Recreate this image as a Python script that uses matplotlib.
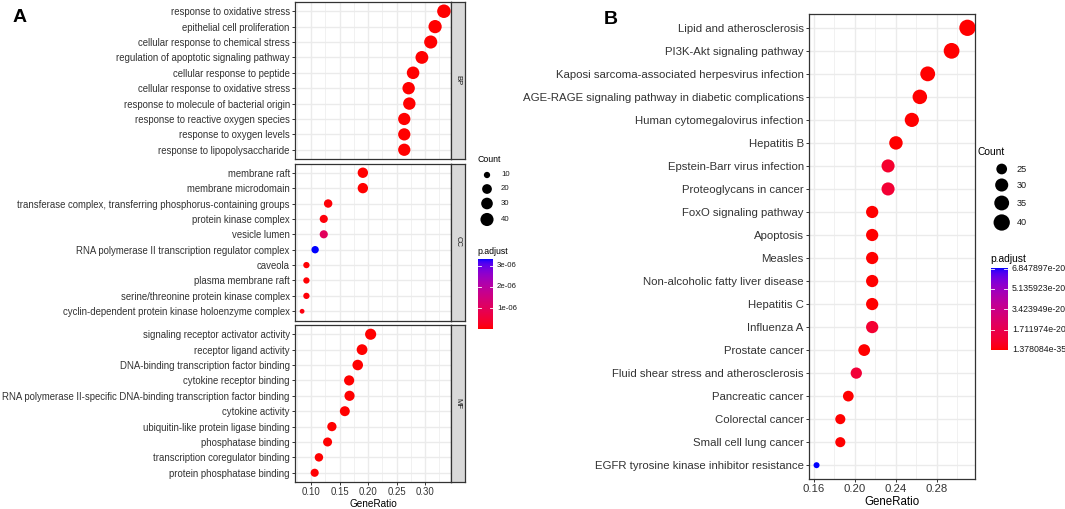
import numpy as np
import matplotlib
matplotlib.use("Agg")
import matplotlib.pyplot as plt
from matplotlib.colors import ListedColormap

plt.rcParams['font.family'] = ['Liberation Sans', 'DejaVu Sans']

# ---------------- data: panel A (GO) ----------------
bp_terms = ["response to oxidative stress", "epithelial cell proliferation",
            "cellular response to chemical stress", "regulation of apoptotic signaling pathway",
            "cellular response to peptide", "cellular response to oxidative stress",
            "response to molecule of bacterial origin", "response to reactive oxygen species",
            "response to oxygen levels", "response to lipopolysaccharide"]
bp_ratio = [0.3333, 0.3178, 0.3101, 0.2946, 0.2791, 0.2713, 0.2725, 0.2636, 0.2636, 0.2636]
bp_count = [43, 41, 40, 38, 36, 35, 35, 34, 34, 34]
bp_padj = [1e-15, 2e-14, 3e-14, 1e-13, 2e-13, 3e-13, 4e-13, 5e-13, 6e-13, 7e-13]

cc_terms = ["membrane raft", "membrane microdomain",
            "transferase complex, transferring phosphorus-containing groups",
            "protein kinase complex", "vesicle lumen",
            "RNA polymerase II transcription regulator complex", "caveola",
            "plasma membrane raft", "serine/threonine protein kinase complex",
            "cyclin-dependent protein kinase holoenzyme complex"]
cc_ratio = [0.1908, 0.1908, 0.1298, 0.1221, 0.1221, 0.1069, 0.0916, 0.0916, 0.0916, 0.0840]
cc_count = [23, 23, 15, 14, 14, 12, 10, 10, 10, 9]
cc_padj = [1e-10, 1e-10, 4e-8, 6e-8, 1.0e-6, 3.26e-6, 2e-8, 2e-8, 5e-8, 8e-8]

mf_terms = ["signaling receptor activator activity", "receptor ligand activity",
            "DNA-binding transcription factor binding", "cytokine receptor binding",
            "RNA polymerase II-specific DNA-binding transcription factor binding",
            "cytokine activity", "ubiquitin-like protein ligase binding",
            "phosphatase binding", "transcription coregulator binding",
            "protein phosphatase binding"]
mf_ratio = [0.2045, 0.1894, 0.1818, 0.1667, 0.1674, 0.1591, 0.1364, 0.1288, 0.1136, 0.1061]
mf_count = [27, 25, 24, 22, 22, 21, 18, 17, 15, 14]
mf_padj = [1e-12, 2e-12, 5e-12, 1e-11, 2e-11, 3e-11, 5e-9, 8e-9, 1e-8, 2e-8]

facet_names = ["BP", "CC", "MF"]
a_xticks = [0.10, 0.15, 0.20, 0.25, 0.30]
a_count_breaks = [10, 20, 30, 40]
a_padj_breaks = [1e-6, 2e-6, 3e-6]
a_padj_labels = ["1e-06", "2e-06", "3e-06"]

# ---------------- data: panel B (KEGG) ----------------
kegg_terms = ["Lipid and atherosclerosis", "PI3K-Akt signaling pathway",
              "Kaposi sarcoma-associated herpesvirus infection",
              "AGE-RAGE signaling pathway in diabetic complications",
              "Human cytomegalovirus infection", "Hepatitis B", "Epstein-Barr virus infection",
              "Proteoglycans in cancer", "FoxO signaling pathway", "Apoptosis", "Measles",
              "Non-alcoholic fatty liver disease", "Hepatitis C", "Influenza A",
              "Prostate cancer", "Fluid shear stress and atherosclerosis", "Pancreatic cancer",
              "Colorectal cancer", "Small cell lung cancer",
              "EGFR tyrosine kinase inhibitor resistance"]
kegg_ratio = [0.3101, 0.2946, 0.2713, 0.2636, 0.2558, 0.2403, 0.2326, 0.2326, 0.2171, 0.2171,
              0.2171, 0.2171, 0.2171, 0.2171, 0.2093, 0.2016, 0.1938, 0.1860, 0.1860, 0.1628]
kegg_count = [40, 38, 35, 34, 33, 31, 30, 30, 28, 28, 28, 28, 28, 28, 27, 26, 25, 24, 24, 21]
kegg_padj = [1.378084e-35, 1e-33, 1e-28, 1e-27, 1e-27, 2e-24, 8.0e-21, 9.5e-21, 1e-25, 1e-25,
             1e-24, 1e-24, 1e-23, 9.0e-21, 1e-23, 1.05e-20, 2e-22, 1e-22, 1e-22, 6.847897e-20]
b_xticks = [0.16, 0.20, 0.24, 0.28]
b_count_breaks = [25, 30, 35, 40]
b_padj_breaks = [1.378084e-35, 1.711974e-20, 3.423949e-20, 5.135923e-20, 6.847897e-20]
b_padj_labels = ["1.378084e-35", "1.711974e-20", "3.423949e-20", "5.135923e-20", "6.847897e-20"]

# ---------------- colour scale (Lab interpolation red -> blue) ----------------
def lab_to_rgb(L, a, b):
    fy = (L + 16) / 116.0
    fx = fy + a / 500.0
    fz = fy - b / 200.0
    def finv(t):
        return np.where(t ** 3 > 0.008856, t ** 3, (t - 16 / 116.0) / 7.787)
    X = 0.95047 * finv(fx); Y = finv(fy); Z = 1.08883 * finv(fz)
    r = 3.2406 * X - 1.5372 * Y - 0.4986 * Z
    g = -0.9689 * X + 1.8758 * Y + 0.0415 * Z
    bb = 0.0557 * X - 0.2040 * Y + 1.0570 * Z
    def gam(c):
        c = np.clip(c, 0, None)
        return np.where(c > 0.0031308, 1.055 * c ** (1 / 2.4) - 0.055, 12.92 * c)
    return np.clip(np.stack([gam(r), gam(g), gam(bb)], -1), 0, 1)

red_lab = np.array([53.2408, 80.0925, 67.2032])
blue_lab = np.array([32.2970, 79.1875, -107.8602])
tt = np.linspace(0, 1, 256)
lab = red_lab[None, :] * (1 - tt[:, None]) + blue_lab[None, :] * tt[:, None]
cmap = ListedColormap(lab_to_rgb(lab[:, 0], lab[:, 1], lab[:, 2]))

# ---------------- figure ----------------
W, H = 1065, 509
fig = plt.figure(figsize=(W / 100, H / 100), dpi=100)

def ax_px(x0, y0, x1, y1):
    return fig.add_axes([x0 / W, 1 - y1 / H, (x1 - x0) / W, (y1 - y0) / H])

def size_fn(counts, cmin, cmax, k, o):
    c = np.asarray(counts, float)
    sz = 1 + 5 * np.sqrt(np.clip((c - cmin) / (cmax - cmin), 0, 1))
    d_px = k * sz + o
    return (d_px * 0.72) ** 2

EDGE = '#333333'
GRID = '#EBEBEB'

def style_panel(ax, xlim, xticks, minor_ticks, n, show_x, fs):
    ax.set_xlim(*xlim)
    ax.set_ylim(-0.6, n - 1 + 0.6)
    ax.set_xticks(xticks)
    ax.set_xticks(minor_ticks, minor=True)
    ax.grid(True, which='major', color=GRID, lw=1.0)
    ax.grid(True, which='minor', axis='x', color=GRID, lw=0.5)
    ax.set_axisbelow(True)
    for s in ax.spines.values():
        s.set_color(EDGE); s.set_linewidth(0.9)
    ax.tick_params(axis='both', which='major', length=2.2, width=0.7, color=EDGE,
                   labelcolor='#333333', labelsize=fs, pad=1.5)
    ax.tick_params(axis='x', which='minor', length=0)
    if not show_x:
        ax.tick_params(axis='x', which='major', length=0, labelbottom=False)

# --- panel A ---
a_all_ratio = bp_ratio + cc_ratio + mf_ratio
a_all_count = bp_count + cc_count + mf_count
a_all_padj = bp_padj + cc_padj + mf_padj
lo, hi = min(a_all_ratio), max(a_all_ratio)
a_xlim = (lo - 0.05 * (hi - lo), hi + 0.05 * (hi - lo))
a_cmin, a_cmax = min(a_all_count), max(a_all_count)
a_vmin, a_vmax = min(a_all_padj), max(a_all_padj)
a_minor = [0.075, 0.125, 0.175, 0.225, 0.275, 0.325]

panel_y = [(2, 159), (163.5, 320.5), (325, 482)]
groups = [(bp_terms, bp_ratio, bp_count, bp_padj),
          (cc_terms, cc_ratio, cc_count, cc_padj),
          (mf_terms, mf_ratio, mf_count, mf_padj)]
for i, ((y0, y1), (terms, ratio, count, padj)) in enumerate(zip(panel_y, groups)):
    ax = ax_px(295, y0, 451, y1)
    n = len(terms)
    yy = np.arange(n)[::-1]
    cols = cmap((np.array(padj) - a_vmin) / (a_vmax - a_vmin))
    ax.scatter(ratio, yy, s=size_fn(count, a_cmin, a_cmax, 1.74, 3.06), c=cols,
               edgecolors='none', zorder=3)
    style_panel(ax, a_xlim, a_xticks, a_minor, n, i == 2, 6.9)
    ax.set_yticks(yy)
    ax.set_yticklabels(terms)
    if i == 2:
        ax.set_xticklabels(["%.2f" % v for v in a_xticks])
        ax.set_xlabel("GeneRatio", fontsize=7.2, color='black', labelpad=1.5)
    sax = ax_px(451, y0, 465, y1)
    sax.set_facecolor('#D9D9D9')
    sax.set_xticks([]); sax.set_yticks([])
    for s in sax.spines.values():
        s.set_color(EDGE); s.set_linewidth(0.9)
    sax.text(0.5, 0.5, facet_names[i], rotation=270, ha='center', va='center',
             fontsize=5.5, color='#1A1A1A', transform=sax.transAxes)

# --- panel B ---
lo, hi = min(kegg_ratio), max(kegg_ratio)
b_xlim = (lo - 0.05 * (hi - lo), hi + 0.05 * (hi - lo))
b_cmin, b_cmax = min(kegg_count), max(kegg_count)
b_vmin, b_vmax = min(kegg_padj), max(kegg_padj)
axb = ax_px(809, 14, 975, 479)
nb = len(kegg_terms)
yb = np.arange(nb)[::-1]
colsb = cmap((np.array(kegg_padj) - b_vmin) / (b_vmax - b_vmin))
axb.scatter(kegg_ratio, yb, s=size_fn(kegg_count, b_cmin, b_cmax, 2.06, 3.94), c=colsb,
            edgecolors='none', zorder=3)
style_panel(axb, b_xlim, b_xticks, [0.18, 0.22, 0.26, 0.30], nb, True, 8.2)
axb.set_yticks(yb)
axb.set_yticklabels(kegg_terms)
axb.set_xticklabels(["%.2f" % v for v in b_xticks])
axb.set_xlabel("GeneRatio", fontsize=8.3, color='black', labelpad=1.5)

# ---------------- legends & labels (overlay in pixel coordinates) ----------------
ov = fig.add_axes([0, 0, 1, 1], zorder=10)
ov.set_xlim(0, W); ov.set_ylim(H, 0); ov.axis('off')

ov.text(19.5, 17, "A", fontsize=14, fontweight='bold', ha='center', va='center')
ov.text(611, 19, "B", fontsize=14, fontweight='bold', ha='center', va='center')

# A: Count legend
ov.text(477, 160, "Count", fontsize=6.3, ha='left', va='center', color='black')
for v, yk in zip(a_count_breaks, [175, 189, 203.5, 219.5]):
    ov.scatter([487], [yk], s=size_fn([v], a_cmin, a_cmax, 1.74, 3.06), c='black',
               edgecolors='none')
    ov.text(501, yk, str(v), fontsize=5.6, ha='left', va='center', color='#1A1A1A')

# A: p.adjust colorbar
ov.text(477, 252, "p.adjust", fontsize=6.3, ha='left', va='center', color='black')
bx0, bx1, by0, by1 = 478.3, 492.5, 260, 329.5
grad = np.linspace(1, 0, 200)[:, None]
ov.imshow(grad, cmap=cmap, extent=(bx0, bx1, by1, by0), aspect='auto', vmin=0, vmax=1,
          interpolation='bilinear')
for v, lab_ in zip(a_padj_breaks, a_padj_labels):
    yk = by1 - (v - a_vmin) / (a_vmax - a_vmin) * (by1 - by0)
    ov.plot([bx0, bx0 + 2.8], [yk, yk], color='white', lw=0.6)
    ov.plot([bx1 - 2.8, bx1], [yk, yk], color='white', lw=0.6)
    ov.text(497, yk, lab_, fontsize=5.6, ha='left', va='center', color='#1A1A1A')
ov.set_xlim(0, W); ov.set_ylim(H, 0)

# B: Count legend
ov.text(978, 152, "Count", fontsize=7.4, ha='left', va='center', color='black')
for v, yk in zip(b_count_breaks, [169, 185, 203, 222.5]):
    ov.scatter([1001.7], [yk], s=size_fn([v], b_cmin, b_cmax, 2.06, 3.94), c='black',
               edgecolors='none')
    ov.text(1016.5, yk, str(v), fontsize=6.6, ha='left', va='center', color='#1A1A1A')

# B: p.adjust colorbar
ov.text(990, 259.5, "p.adjust", fontsize=7.4, ha='left', va='center', color='black')
cx0, cx1, cy0, cy1 = 990.7, 1007.3, 268.5, 350
ov.imshow(grad, cmap=cmap, extent=(cx0, cx1, cy1, cy0), aspect='auto', vmin=0, vmax=1,
          interpolation='bilinear')
for v, lab_ in zip(b_padj_breaks, b_padj_labels):
    yk = cy1 - (v - b_vmin) / (b_vmax - b_vmin) * (cy1 - cy0)
    ov.plot([cx0, cx0 + 3.3], [yk, yk], color='white', lw=0.6)
    ov.plot([cx1 - 3.3, cx1], [yk, yk], color='white', lw=0.6)
    ov.text(1012, yk, lab_, fontsize=6.3, ha='left', va='center', color='#1A1A1A')
ov.set_xlim(0, W); ov.set_ylim(H, 0)

fig.savefig("out.png", dpi=100, facecolor='white')
